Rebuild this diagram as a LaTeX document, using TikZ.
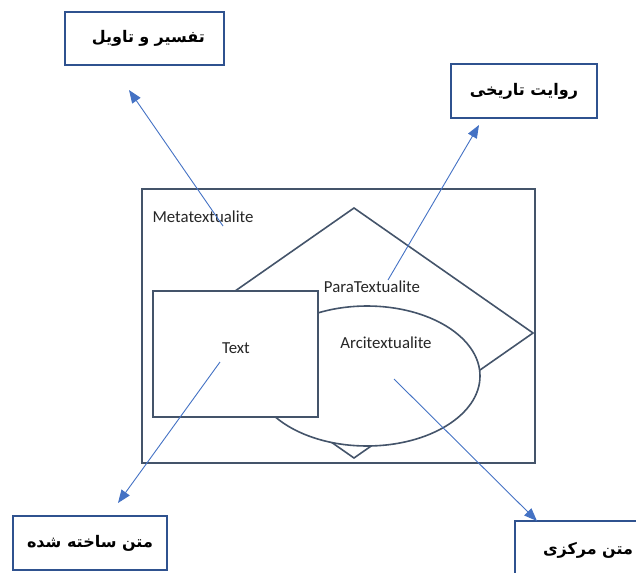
\documentclass[tikz,border=0pt]{standalone}
\usepackage{fontspec}
\setmainfont{Carlito}
\newfontfamily\farsi[Script=Arabic]{DejaVu Sans}
\TeXXeTstate=1
\usetikzlibrary{arrows.meta}
\definecolor{boxblue}{HTML}{2F528F}
\definecolor{shapeline}{HTML}{44546A}
\definecolor{arrowblue}{HTML}{4472C4}

\tikzset{
  pbox/.style={draw=boxblue, line width=2pt, fill=white, inner sep=0pt,
    font=\farsi\bfseries\fontsize{16}{19}\selectfont},
  shapeln/.style={draw=shapeline, line width=1.6pt},
  lbl/.style={font=\fontsize{16.8}{19}\selectfont, text=black!85, inner sep=0pt},
  link/.style={draw=arrowblue, line width=0.9pt, -{Triangle[length=13pt,width=10pt]}},
}

\begin{document}
\begin{tikzpicture}[x=1pt,y=-1pt]
    \useasboundingbox (0,0) rectangle (636,572);
    % frame, diamond, ellipse and text box
    \draw[shapeln] (142,189) rectangle (535,463);
    \draw[shapeln] (354,208) -- (533,333) -- (354,458) -- (175,333) -- cycle;
    \draw[shapeln, fill=white] (367,376) ellipse [x radius=113, y radius=70];
    \draw[shapeln, fill=white] (153,291) rectangle (318,417);
    % labels inside
    \node[lbl] (meta) at (203,217) {Metatextualite};
    \node[lbl] (para) at (372,287) {ParaTextualite};
    \node[lbl] (arci) at (386,343) {Arcitextualite};
    \node[lbl] (txt) at (236,348) {Text};
    % outer boxes
    \node[pbox, minimum width=159pt, minimum height=53pt, text width=121pt, align=right]
        (tafsir) at (144.5,38.5) {\beginR تفسیر و تاویل\endR};
    \node[pbox, minimum width=146pt, minimum height=54pt]
        (revayat) at (524,91) {\beginR روایت تاریخی\endR};
    \node[pbox, minimum width=154pt, minimum height=54pt]
        (sakhte) at (90,543) {\beginR متن ساخته شده\endR};
    \node[pbox, minimum width=170pt, minimum height=58pt, text width=114pt, align=left]
        (markazi) at (600,550) {\beginR متن مرکزی\endR};
    % arrow ends
    \coordinate (metaTail) at (223,226);
    \coordinate (metaTip) at (129,90);
    \coordinate (paraTail) at (388,280);
    \coordinate (paraTip) at (479,125);
    \coordinate (txtTail) at (220,362);
    \coordinate (txtTip) at (118,503);
    \coordinate (arciTail) at (394,379);
    \coordinate (arciTip) at (537,521);
    \draw[link] (metaTail) -- (metaTip);
    \draw[link] (paraTail) -- (paraTip);
    \draw[link] (txtTail) -- (txtTip);
    \draw[link] (arciTail) -- (arciTip);
\end{tikzpicture}
\end{document}
